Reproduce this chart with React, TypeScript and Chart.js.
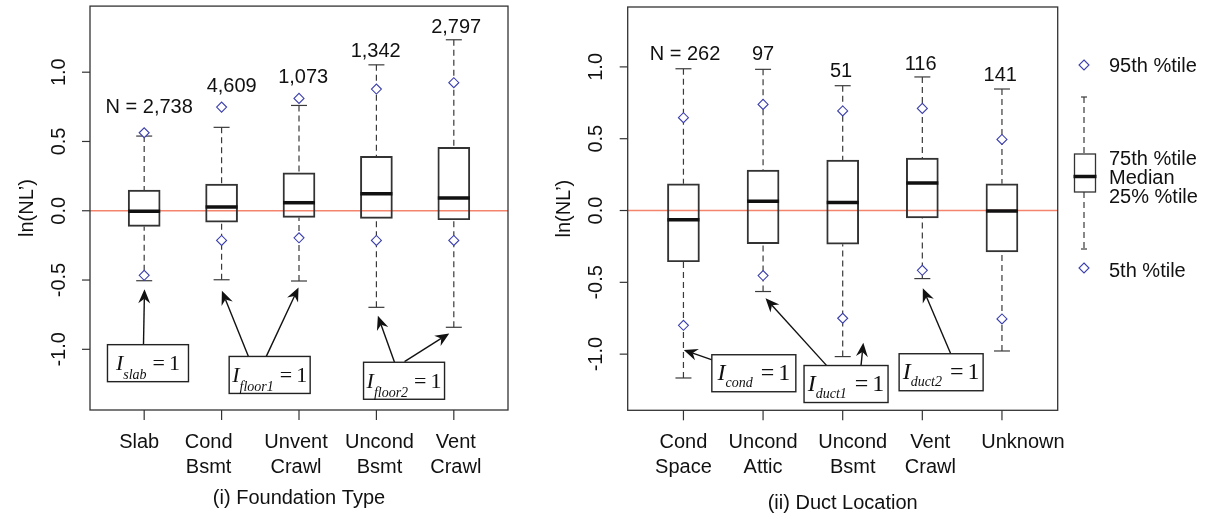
import React, { useEffect, useRef } from 'react';
import { Chart, registerables } from 'chart.js';

Chart.register(...registerables);

// ---------- (i) Foundation Type ----------
const foundationCategories = [['Slab'], ['Cond', 'Bsmt'], ['Unvent', 'Crawl'], ['Uncond', 'Bsmt'], ['Vent', 'Crawl']];
const foundationQ1 = [-0.113, -0.082, -0.048, -0.055, -0.065];
const foundationMedian = [-0.004, 0.027, 0.058, 0.123, 0.092];
const foundationQ3 = [0.149, 0.193, 0.274, 0.392, 0.457];
const foundationWhiskerLow = [-0.505, -0.498, -0.507, -0.697, -0.841];
const foundationWhiskerHigh = [0.539, 0.602, 0.76, 1.053, 1.234];
const foundationP5 = [-0.466, -0.214, -0.195, -0.214, -0.214];
const foundationP95 = [0.563, 0.748, 0.811, 0.878, 0.924];
const foundationN = ['N = 2,738', '4,609', '1,073', '1,342', '2,797'];
const foundationNLabelX = [1.065, 2.13, 3.054, 3.991, 5.031];
const foundationNLabelY = [0.746, 0.9, 0.965, 1.147, 1.323];
const foundationAnnotations = [
  { sub: 'slab', x: 1.049, y: -1.1, tails: [[0.991, -0.969]], tips: [[1.004, -0.567]] },
  { sub: 'floor1', x: 2.621, y: -1.185, tails: [[2.348, -1.053], [2.576, -1.053]], tips: [[2.004, -0.577], [2.994, -0.553]] },
  { sub: 'floor2', x: 4.357, y: -1.227, tails: [[4.234, -1.094], [4.363, -1.089]], tips: [[4.019, -0.758], [4.941, -0.885]] },
];

// ---------- (ii) Duct Location ----------
const ductCategories = [['Cond', 'Space'], ['Uncond', 'Attic'], ['Uncond', 'Bsmt'], ['Vent', 'Crawl'], ['Unknown']];
const ductQ1 = [-0.357, -0.23, -0.234, -0.051, -0.288];
const ductMedian = [-0.065, 0.065, 0.056, 0.191, -0.004];
const ductQ3 = [0.186, 0.281, 0.351, 0.365, 0.186];
const ductWhiskerLow = [-1.166, -0.564, -1.017, -0.474, -0.978];
const ductWhiskerHigh = [0.987, 0.983, 0.869, 0.93, 0.846];
const ductP5 = [-0.799, -0.453, -0.75, -0.416, -0.755];
const ductP95 = [0.646, 0.739, 0.693, 0.711, 0.495];
const ductN = ['N = 262', '97', '51', '116', '141'];
const ductNLabelX = [1.02, 2.0, 2.979, 3.979, 4.979];
const ductNLabelY = [1.085, 1.085, 0.969, 1.015, 0.939];
const ductAnnotations = [
  { sub: 'cond', x: 1.884, y: -1.133, tails: [[1.36, -1.04]], tips: [[1.004, -0.971]] },
  { sub: 'duct1', x: 3.042, y: -1.208, tails: [[2.799, -1.08], [3.23, -1.08]], tips: [[2.031, -0.61], [3.259, -0.92]] },
  { sub: 'duct2', x: 4.236, y: -1.126, tails: [[4.358, -0.999]], tips: [[4.006, -0.541]] },
];

const yTickValues = [-1, -0.5, 0, 0.5, 1];
const legendLabels = ['95th %tile', '75th %tile', 'Median', '25% %tile', '5th %tile'];

const SANS = '"Liberation Sans", Arial, Helvetica, sans-serif';
const SERIF = '"Liberation Serif", "Times New Roman", serif';
const DIAMOND = '#3b3fae';
const ZERO = '#f4846c';
const INK = '#111111';
const FRAME = '#333333';

type Panel = {
  categories: string[][];
  q1: number[]; median: number[]; q3: number[];
  whiskerLow: number[]; whiskerHigh: number[];
  p5: number[]; p95: number[];
  nLabels: string[]; nLabelX: number[]; nLabelY: number[];
  annotations: { sub: string; x: number; y: number; tails: number[][]; tips: number[][] }[];
  noteStyle: { main: number; sub: number; base: number; subBase: number; gap: number; boxW: number };
  yMin: number; yMax: number;
  width: number; height: number;
  padding: { left: number; right: number; top: number; bottom: number };
  title: string; titleY: number;
  tickNudge: number[];
  legend: boolean;
};

function diamond(ctx: CanvasRenderingContext2D, x: number, y: number, r: number) {
  ctx.beginPath();
  ctx.moveTo(x, y - r);
  ctx.lineTo(x + r, y);
  ctx.lineTo(x, y + r);
  ctx.lineTo(x - r, y);
  ctx.closePath();
  ctx.fillStyle = '#ffffff';
  ctx.fill();
  ctx.strokeStyle = DIAMOND;
  ctx.lineWidth = 1.1;
  ctx.stroke();
}

function seg(ctx: CanvasRenderingContext2D, x1: number, y1: number, x2: number, y2: number) {
  ctx.beginPath();
  ctx.moveTo(x1, y1);
  ctx.lineTo(x2, y2);
  ctx.stroke();
}

function arrow(ctx: CanvasRenderingContext2D, x1: number, y1: number, x2: number, y2: number) {
  const ang = Math.atan2(y2 - y1, x2 - x1);
  const c = Math.cos(ang), s = Math.sin(ang);
  const len = 14, hw = 6, notch = 4.5;
  ctx.strokeStyle = INK;
  ctx.fillStyle = INK;
  ctx.lineWidth = 1.4;
  seg(ctx, x1, y1, x2 - (len - notch) * c, y2 - (len - notch) * s);
  ctx.beginPath();
  ctx.moveTo(x2, y2);
  ctx.lineTo(x2 - len * c + hw * s, y2 - len * s - hw * c);
  ctx.lineTo(x2 - (len - notch) * c, y2 - (len - notch) * s);
  ctx.lineTo(x2 - len * c - hw * s, y2 - len * s + hw * c);
  ctx.closePath();
  ctx.fill();
}

const boxPlotPlugin = {
  id: 'boxplotExtras',
  beforeDatasetsDraw(chart: any, _args: any, opts: any) {
    const p: Panel = opts.panel;
    const { ctx, chartArea: a } = chart;
    const x = chart.scales.x, y = chart.scales.y;
    ctx.save();
    ctx.strokeStyle = ZERO;
    ctx.lineWidth = 1.5;
    const y0 = y.getPixelForValue(0);
    seg(ctx, a.left, y0, a.right, y0);
    ctx.strokeStyle = '#3a3a3a';
    ctx.lineWidth = 1.2;
    p.q1.forEach((_, i) => {
      const px = x.getPixelForValue(i + 1);
      ctx.setLineDash([6, 4]);
      seg(ctx, px, y.getPixelForValue(p.whiskerHigh[i]), px, y.getPixelForValue(p.q3[i]));
      seg(ctx, px, y.getPixelForValue(p.whiskerLow[i]), px, y.getPixelForValue(p.q1[i]));
      ctx.setLineDash([]);
      seg(ctx, px - 8, y.getPixelForValue(p.whiskerHigh[i]), px + 8, y.getPixelForValue(p.whiskerHigh[i]));
      seg(ctx, px - 8, y.getPixelForValue(p.whiskerLow[i]), px + 8, y.getPixelForValue(p.whiskerLow[i]));
    });
    ctx.restore();
  },
  afterDatasetsDraw(chart: any, _args: any, opts: any) {
    const p: Panel = opts.panel;
    const { ctx } = chart;
    const x = chart.scales.x, y = chart.scales.y;
    const meta = chart.getDatasetMeta(2);
    ctx.save();
    ctx.strokeStyle = INK;
    ctx.lineWidth = 3.5;
    p.median.forEach((m, i) => {
      const px = x.getPixelForValue(i + 1);
      const w = meta.data[i] ? meta.data[i].width : 32;
      seg(ctx, px - w / 2, y.getPixelForValue(m), px + w / 2, y.getPixelForValue(m));
    });
    ctx.restore();
  },
  afterDraw(chart: any, _args: any, opts: any) {
    const p: Panel = opts.panel;
    const { ctx, chartArea: a } = chart;
    const x = chart.scales.x, y = chart.scales.y;
    ctx.save();
    // frame
    ctx.strokeStyle = FRAME;
    ctx.lineWidth = 1.3;
    ctx.strokeRect(a.left, a.top, a.right - a.left, a.bottom - a.top);
    ctx.fillStyle = INK;
    ctx.font = `20px ${SANS}`;
    // y ticks
    yTickValues.forEach((v) => {
      const py = y.getPixelForValue(v);
      ctx.strokeStyle = FRAME;
      ctx.lineWidth = 1.2;
      seg(ctx, a.left - 8, py, a.left, py);
      ctx.save();
      ctx.translate(a.left - 31, py);
      ctx.rotate(-Math.PI / 2);
      ctx.textAlign = 'center';
      ctx.textBaseline = 'middle';
      ctx.fillText(v.toFixed(1), 0, 0);
      ctx.restore();
    });
    // y title
    ctx.save();
    ctx.translate(a.left - 63, (a.top + a.bottom) / 2);
    ctx.rotate(-Math.PI / 2);
    ctx.textAlign = 'center';
    ctx.textBaseline = 'middle';
    ctx.fillText('ln(NL\u2019)', 0, 0);
    ctx.restore();
    // x ticks
    p.categories.forEach((lines, i) => {
      const px = x.getPixelForValue(i + 1);
      ctx.strokeStyle = FRAME;
      ctx.lineWidth = 1.2;
      seg(ctx, px, a.bottom, px, a.bottom + 10);
      ctx.textAlign = 'center';
      ctx.textBaseline = 'middle';
      lines.forEach((t, j) => ctx.fillText(t, px + p.tickNudge[i], a.bottom + 32 + j * 25.5));
    });
    ctx.textAlign = 'center';
    ctx.textBaseline = 'middle';
    ctx.fillText(p.title, (a.left + a.right) / 2, p.titleY);
    // N labels
    p.nLabels.forEach((t, i) => {
      ctx.fillText(t, x.getPixelForValue(p.nLabelX[i]), y.getPixelForValue(p.nLabelY[i]));
    });
    // annotations
    const ns = p.noteStyle;
    p.annotations.forEach((an) => {
      an.tails.forEach((t, k) => {
        arrow(ctx, x.getPixelForValue(t[0]), y.getPixelForValue(t[1]), x.getPixelForValue(an.tips[k][0]), y.getPixelForValue(an.tips[k][1]));
      });
      const cx = x.getPixelForValue(an.x), cy = y.getPixelForValue(an.y);
      const bw = ns.boxW, bh = 37;
      ctx.fillStyle = '#ffffff';
      ctx.fillRect(cx - bw / 2, cy - bh / 2, bw, bh);
      ctx.strokeStyle = '#222222';
      ctx.lineWidth = 1.4;
      ctx.strokeRect(cx - bw / 2, cy - bh / 2, bw, bh);
      ctx.fillStyle = INK;
      ctx.textAlign = 'left';
      ctx.textBaseline = 'alphabetic';
      const mainFont = `italic ${ns.main}px ${SERIF}`;
      const subFont = `italic ${ns.sub}px ${SERIF}`;
      const restFont = `${ns.main}px ${SERIF}`;
      ctx.font = mainFont; const wI = ctx.measureText('I').width;
      ctx.font = subFont; const wS = ctx.measureText(an.sub).width;
      ctx.font = restFont;
      const wEq = ctx.measureText('=').width;
      const wOne = ctx.measureText('1').width;
      const total = wI + wS + ns.gap + wEq + 4 + wOne;
      let sx = cx - total / 2;
      ctx.font = mainFont; ctx.fillText('I', sx, cy + ns.base); sx += wI;
      ctx.font = subFont; ctx.fillText(an.sub, sx, cy + ns.subBase); sx += wS + ns.gap;
      ctx.font = restFont; ctx.fillText('=', sx, cy + ns.base); sx += wEq + 4;
      ctx.fillText('1', sx, cy + ns.base);
    });
    // legend
    if (p.legend) {
      const lx = 540, tx = 564;
      ctx.font = `20px ${SANS}`;
      ctx.fillStyle = INK;
      ctx.textAlign = 'left';
      ctx.textBaseline = 'middle';
      diamond(ctx, lx - 1, 65, 5);
      diamond(ctx, lx - 1, 268, 5);
      ctx.strokeStyle = '#3a3a3a';
      ctx.lineWidth = 1.2;
      ctx.setLineDash([6, 4]);
      seg(ctx, lx - 1, 97, lx - 1, 154);
      seg(ctx, lx - 1, 192, lx - 1, 249);
      ctx.setLineDash([]);
      seg(ctx, lx - 4, 97, lx + 2, 97);
      seg(ctx, lx - 4, 249, lx + 2, 249);
      ctx.strokeStyle = FRAME;
      ctx.lineWidth = 1.3;
      ctx.strokeRect(lx - 10.5, 154, 21, 38);
      ctx.strokeStyle = INK;
      ctx.lineWidth = 3.5;
      seg(ctx, lx - 11.5, 176.5, lx + 11.5, 176.5);
      ctx.fillStyle = INK;
      ctx.fillText(legendLabels[0], tx, 66);
      ctx.fillText(legendLabels[1], tx, 159);
      ctx.fillText(legendLabels[2], tx, 178);
      ctx.fillText(legendLabels[3], tx, 197);
      ctx.fillText(legendLabels[4], tx, 271);
    }
    ctx.restore();
  },
};

const foundationPanel: Panel = {
  categories: foundationCategories,
  q1: foundationQ1, median: foundationMedian, q3: foundationQ3,
  whiskerLow: foundationWhiskerLow, whiskerHigh: foundationWhiskerHigh,
  p5: foundationP5, p95: foundationP95,
  nLabels: foundationN, nLabelX: foundationNLabelX, nLabelY: foundationNLabelY,
  annotations: foundationAnnotations,
  noteStyle: { main: 22, sub: 14, base: 7, subBase: 16, gap: 6, boxW: 81 },
  yMin: -1.438, yMax: 1.477,
  width: 545, height: 517,
  padding: { left: 90, right: 37, top: 6, bottom: 107 },
  title: '(i) Foundation Type', titleY: 498,
  tickNudge: [-5, -13, -3, 3, 2],
  legend: false,
};

const ductPanel: Panel = {
  categories: ductCategories,
  q1: ductQ1, median: ductMedian, q3: ductQ3,
  whiskerLow: ductWhiskerLow, whiskerHigh: ductWhiskerHigh,
  p5: ductP5, p95: ductP95,
  nLabels: ductN, nLabelX: ductNLabelX, nLabelY: ductNLabelY,
  annotations: ductAnnotations,
  noteStyle: { main: 24, sub: 14, base: 7, subBase: 14, gap: 8, boxW: 84 },
  yMin: -1.391, yMax: 1.417,
  width: 663, height: 517,
  padding: { left: 82.7, right: 150.3, top: 7, bottom: 106.7 },
  title: '(ii) Duct Location', titleY: 503,
  tickNudge: [0, 0, 10, 8, 21],
  legend: true,
};

function BoxPanel({ panel, left }: { panel: Panel; left: number }) {
  const ref = useRef<HTMLCanvasElement | null>(null);
  useEffect(() => {
    if (!ref.current) return;
    const p = panel;
    const chart = new Chart(ref.current, {
      type: 'bar',
      data: {
        datasets: [
          {
            type: 'scatter',
            label: '95th %tile',
            data: p.p95.map((v, i) => ({ x: i + 1, y: v })),
            pointStyle: 'rectRot',
            pointRadius: 5,
            borderColor: DIAMOND,
            backgroundColor: '#ffffff',
            borderWidth: 1.1,
          } as any,
          {
            type: 'scatter',
            label: '5th %tile',
            data: p.p5.map((v, i) => ({ x: i + 1, y: v })),
            pointStyle: 'rectRot',
            pointRadius: 5,
            borderColor: DIAMOND,
            backgroundColor: '#ffffff',
            borderWidth: 1.1,
          } as any,
          {
            type: 'bar',
            label: 'IQR',
            data: p.q1.map((v, i) => ({ x: i + 1, y: [v, p.q3[i]] })),
            backgroundColor: 'rgba(0,0,0,0)',
            borderColor: FRAME,
            borderWidth: 1.3,
            borderSkipped: false,
            barThickness: 32,
          } as any,
        ],
      },
      options: {
        responsive: false,
        animation: false,
        devicePixelRatio: 1,
        layout: { padding: p.padding },
        plugins: {
          legend: { display: false },
          tooltip: { enabled: false },
          boxplotExtras: { panel: p },
        } as any,
        scales: {
          x: { type: 'linear', min: 0.3, max: 5.7, offset: false, display: false },
          y: { type: 'linear', min: p.yMin, max: p.yMax, display: false },
        },
      },
      plugins: [boxPlotPlugin],
    });
    return () => chart.destroy();
  }, [panel]);
  return (
    <canvas
      ref={ref}
      width={panel.width}
      height={panel.height}
      style={{ position: 'absolute', left, top: 0, width: panel.width, height: panel.height }}
    />
  );
}

export default function App() {
  return (
    <div style={{ position: 'fixed', left: 0, top: 0, width: 1208, height: 517, background: '#ffffff' }}>
      <BoxPanel panel={foundationPanel} left={0} />
      <BoxPanel panel={ductPanel} left={545} />
    </div>
  );
}
